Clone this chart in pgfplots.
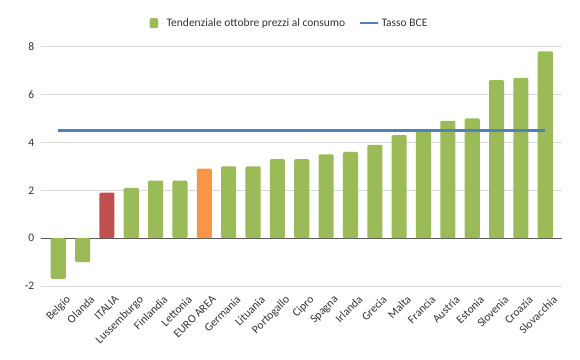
\documentclass[border=0pt]{standalone}
\usepackage{fontspec}
\setmainfont{Carlito}
\usepackage{pgfplots}
\usepackage{pgfplotstable}
\pgfplotsset{compat=1.18}
\definecolor{cgreen}{HTML}{9BBB59}
\definecolor{cred}{HTML}{C0504D}
\definecolor{corange}{HTML}{F79646}
\definecolor{cblue}{HTML}{4F81BD}
\definecolor{cgrid}{HTML}{D9D9D9}
\pgfplotstableread{
idx val
0 -1.7
1 -1.0
3 2.1
4 2.4
5 2.4
7 3.0
8 3.0
9 3.3
10 3.3
11 3.5
12 3.6
13 3.9
14 4.3
15 4.5
16 4.9
17 5.0
18 6.6
19 6.7
20 7.8
}\greendata
\pgfplotstableread{
idx val
2 1.9
}\reddata
\pgfplotstableread{
idx val
6 2.9
}\orangedata
\pgfplotstableread{
idx val
0 4.5
1 4.5
2 4.5
3 4.5
4 4.5
5 4.5
6 4.5
7 4.5
8 4.5
9 4.5
10 4.5
11 4.5
12 4.5
13 4.5
14 4.5
15 4.5
16 4.5
17 4.5
18 4.5
19 4.5
20 4.5
}\bcedata
\begin{document}
\begin{tikzpicture}[x=1pt,y=1pt]
\useasboundingbox (0,0) rectangle (580,359);
\begin{axis}[
  at={(40.7pt,73pt)}, anchor=south west,
  scale only axis, width=521.6pt, height=239.3pt,
  xmin=-0.72, xmax=20.7, ymin=-2, ymax=8,
  axis line style={draw=none},
  major tick length=0pt,
  ytick={-2,0,2,4,6,8},
  ymajorgrids, grid style={cgrid, line width=0.8pt},
  extra y ticks={0}, extra y tick labels={},
  extra y tick style={grid style={black!65, line width=0.9pt}},
  xtick={0,...,20},
  xticklabels={Belgio,Olanda,ITALIA,Lussemburgo,Finlandia,Lettonia,EURO AREA,Germania,Lituania,Portogallo,Cipro,Spagna,Irlanda,Grecia,Malta,Francia,Austria,Estonia,Slovenia,Croazia,Slovacchia},
  xticklabel style={rotate=45, anchor=north east, font=\fontsize{11.5}{13}\selectfont, text=black!80, inner sep=0pt, xshift=-1pt, yshift=-11pt},
  yticklabel style={font=\fontsize{11.5}{13}\selectfont, text=black!80, xshift=-3pt},
  /pgf/number format/assume math mode=true,
  ybar, bar width=0.62, bar shift=0pt,
  legend style={at={(0.477,1.098)}, anchor=center, draw=none, fill=none,
    font=\fontsize{11.5}{13}\selectfont, text=black!80,
    legend columns=2, /tikz/every even column/.append style={column sep=12pt}},
  legend cell align=left,
  clip=false,
]
\addplot[fill=cgreen, draw=none, rounded corners=1.2pt,
  legend image code/.code={\fill[cgreen] (0pt,-5pt) rectangle (8.5pt,5pt); \path (0pt,0pt) -- (15pt,0pt);}]
  table[x=idx,y=val]{\greendata};
\addlegendentry{Tendenziale ottobre prezzi al consumo}
\addplot[fill=cred, draw=none, rounded corners=1.2pt, forget plot] table[x=idx,y=val]{\reddata};
\addplot[fill=corange, draw=none, rounded corners=1.2pt, forget plot] table[x=idx,y=val]{\orangedata};
\addplot[sharp plot, cblue, line width=2.3pt, no marks,
  legend image code/.code={\draw[cblue, line width=2.3pt] (0pt,0pt) -- (11pt,0pt); \path (0pt,0pt) -- (18pt,0pt);}]
  table[x=idx,y=val]{\bcedata};
\addlegendentry{Tasso BCE}
\end{axis}
\end{tikzpicture}
\end{document}
